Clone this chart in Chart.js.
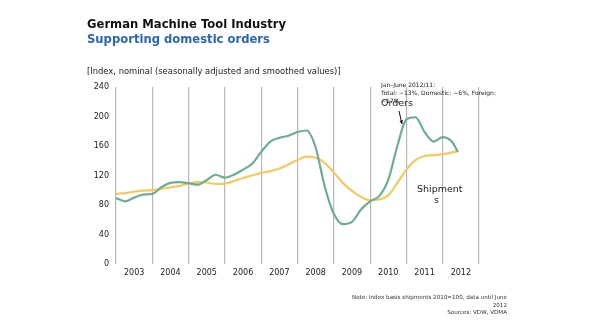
<!DOCTYPE html>
<html>
<head>
<meta charset="utf-8">
<script src="https://cdn.jsdelivr.net/npm/chart.js@4.4.1/dist/chart.umd.min.js"></script>
<style>
  body { margin: 0; background: #fff; font-family: "DejaVu Sans", sans-serif; }
  #wrap { position: relative; width: 595px; height: 335px; overflow: hidden; }
  #chart { position: absolute; left: 0; top: 0; }
  .txt { position: absolute; white-space: nowrap; color: #222; }
  .title { left: 87px; top: 17px; font-size: 11.6px; font-weight: bold; line-height: 14px; color: #111; }
  .subtitle { left: 87px; top: 32px; font-size: 11.6px; font-weight: bold; line-height: 14px; color: #2a66b8; }
  .unit { left: 87px; top: 66px; font-size: 8.4px; line-height: 10px; }
  .note { right: 88px; top: 294px; font-size: 5.6px; line-height: 7.5px; text-align: right; color: #333; }
  .ann { left: 381px; font-size: 6px; line-height: 8px; color: #222; }
  .label { font-size: 9.5px; line-height: 11px; color: #222; }
</style>
</head>
<body>
<div id="wrap">
  <canvas id="chart" width="595" height="335"></canvas>
  <div class="txt title">German Machine Tool Industry</div>
  <div class="txt subtitle">Supporting domestic orders</div>
  <div class="txt unit">[Index, nominal (seasonally adjusted and smoothed values)]</div>
  <div class="txt ann" style="top:81px">Jan–June 2012/11:</div>
  <div class="txt ann" style="top:89px">Total: −13%, Domestic: −6%, Foreign:</div>
  <div class="txt ann" style="top:97px">−17%</div>
  <div class="txt label" style="left:381px; top:97px">Orders</div>
  <div class="txt label" style="left:417px; top:183px">Shipment</div>
  <div class="txt label" style="left:434px; top:194px">s</div>
  <div class="txt note">Note: Index basis shipments 2010=100, data until June<br>2012<br>Sources: VDW, VDMA</div>
</div>
<script>
// quarterly points (decimal years), last one is mid 2012
const quarters = [
  2003.00, 2003.25, 2003.50, 2003.75, 2004.00, 2004.25, 2004.50, 2004.75,
  2005.00, 2005.25, 2005.50, 2005.75, 2006.00, 2006.25, 2006.50, 2006.75,
  2007.00, 2007.25, 2007.50, 2007.75, 2008.00, 2008.25, 2008.50, 2008.75,
  2009.00, 2009.25, 2009.50, 2009.75, 2010.00, 2010.25, 2010.50, 2010.75,
  2011.00, 2011.25, 2011.50, 2011.75, 2012.00, 2012.25, 2012.42
];
const orders = [
  89.5, 85, 90, 94, 95, 104, 110, 111,
  109.5, 107.5, 114, 121, 117, 121, 128, 136,
  152, 166, 171, 174, 179, 181, 158, 105,
  68, 54, 57, 74, 85, 92, 114, 160,
  196, 199, 179, 166, 172, 166, 152
];
const shipments = [
  95, 96, 98, 99.5, 100, 102, 104, 106,
  109, 111, 110.5, 108.5, 109, 112.5, 116.6, 120,
  123.5, 126, 129.5, 135, 141, 145.5, 144, 137,
  124, 110, 99, 91, 86.5, 87.5, 93, 110,
  128, 141, 146.5, 147.5, 149, 151, 153
];
const years = ['2003', '2004', '2005', '2006', '2007', '2008', '2009', '2010', '2011', '2012'];
const yTicks = [0, 40, 80, 120, 160, 200, 240];

const toPoints = vals => vals.map((v, i) => ({ x: quarters[i], y: v }));

// small arrow pointing from the "Orders" label to the curve
const arrowPlugin = {
  id: 'arrow',
  afterDraw(chart) {
    const c = chart.ctx;
    const x1 = 399, y1 = 111, x2 = 402, y2 = 124;
    const a = Math.atan2(y2 - y1, x2 - x1);
    c.save();
    c.strokeStyle = '#111';
    c.fillStyle = '#111';
    c.lineWidth = 1;
    c.beginPath();
    c.moveTo(x1, y1);
    c.lineTo(x2, y2);
    c.stroke();
    c.beginPath();
    c.moveTo(x2, y2);
    c.lineTo(x2 - 4 * Math.cos(a - 0.45), y2 - 4 * Math.sin(a - 0.45));
    c.lineTo(x2 - 4 * Math.cos(a + 0.45), y2 - 4 * Math.sin(a + 0.45));
    c.closePath();
    c.fill();
    c.restore();
  }
};

new Chart(document.getElementById('chart'), {
  type: 'line',
  data: {
    datasets: [
      {
        label: 'Orders',
        data: toPoints(orders),
        borderColor: '#6cad96',
        borderWidth: 2.2,
        pointRadius: 0,
        cubicInterpolationMode: 'monotone'
      },
      {
        label: 'Shipments',
        data: toPoints(shipments),
        borderColor: '#f6c95e',
        borderWidth: 2.2,
        pointRadius: 0,
        cubicInterpolationMode: 'monotone'
      }
    ]
  },
  options: {
    responsive: false,
    animation: false,
    layout: { padding: { left: 0, right: 116, top: 87, bottom: 51 } },
    scales: {
      x: {
        type: 'linear',
        min: 2003,
        max: 2013,
        afterBuildTicks: scale => {
          const t = [];
          for (let v = 2003; v <= 2013.001; v += 0.5) t.push({ value: v });
          scale.ticks = t;
        },
        afterFit: scale => { scale.height = 20; },
        grid: {
          drawTicks: false,
          lineWidth: 1.2,
          color: ctx => (ctx.tick && ctx.tick.value % 1 === 0) ? '#b8b8b8' : 'rgba(0,0,0,0)'
        },
        border: { display: false },
        ticks: {
          autoSkip: false,
          maxRotation: 0,
          padding: 4,
          color: '#222',
          font: { family: 'DejaVu Sans', size: 8 },
          callback: v => {
            const i = Math.floor(v) - 2003;
            return (v % 1 !== 0 && years[i]) ? years[i] : '';
          }
        }
      },
      y: {
        min: 0,
        max: 240,
        afterBuildTicks: scale => { scale.ticks = yTicks.map(v => ({ value: v })); },
        afterFit: scale => { scale.width = 116; },
        grid: { display: false, drawTicks: false },
        border: { display: false },
        ticks: {
          padding: 7,
          color: '#222',
          font: { family: 'DejaVu Sans', size: 8 }
        }
      }
    },
    plugins: {
      legend: { display: false },
      tooltip: { enabled: false }
    }
  },
  plugins: [arrowPlugin]
});
</script>
</body>
</html>
